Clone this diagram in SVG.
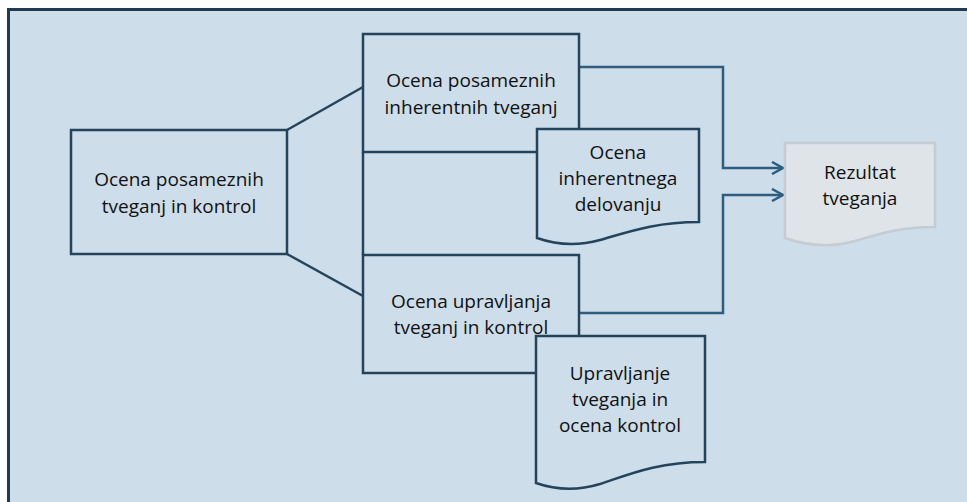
<svg xmlns="http://www.w3.org/2000/svg" width="967" height="502" viewBox="0 0 967 502">
<defs>
<style>
.box{fill:#cddde9;stroke:#24445e;stroke-width:2.5}
.doc{fill:#cddde9;stroke:#24445e;stroke-width:2.5}
.res{fill:#dfe4e8;stroke:#c4ccd2;stroke-width:2.5}
.ln{fill:none;stroke:#24445e;stroke-width:2.5}
.cn{fill:none;stroke:#2f5d80;stroke-width:2.5}
text{font-family:"Open Sans","Liberation Sans",sans-serif;font-size:19px;fill:#111;text-anchor:middle}
</style>
<marker id="arr" markerWidth="14" markerHeight="14" refX="12" refY="7" orient="auto" markerUnits="userSpaceOnUse">
<path d="M1,1 L12,7 L1,13" fill="none" stroke="#2f5d80" stroke-width="2.5"/>
</marker>
</defs>
<rect x="0" y="0" width="967" height="502" fill="#ffffff"/>
<rect id="frame" x="8.5" y="9.5" width="970" height="510" fill="#cddde9" stroke="#1f3b52" stroke-width="3"/>

<g id="connectors">
<line class="ln" x1="287" y1="130" x2="363" y2="87"/>
<line class="ln" x1="287" y1="254" x2="363" y2="296"/>
<line class="ln" x1="363" y1="152" x2="363" y2="255"/>
<polyline class="cn" points="579,67 723,67 723,168 783,168" marker-end="url(#arr)"/>
<polyline class="cn" points="579,313 723,313 723,195 783,195" marker-end="url(#arr)"/>
</g>

<g id="n1">
<rect class="box" x="71" y="130" width="216" height="124"/>
<text x="179" y="186">Ocena posameznih</text>
<text x="179" y="213">tveganj in kontrol</text>
</g>

<g id="n2">
<rect class="box" x="363" y="34" width="216" height="118"/>
<text x="471" y="87">Ocena posameznih</text>
<text x="471" y="114">inherentnih tveganj</text>
</g>

<g id="n3">
<rect class="box" x="363" y="255" width="216" height="118"/>
<text x="471" y="308">Ocena upravljanja</text>
<text x="471" y="334">tveganj in kontrol</text>
</g>

<g id="d1">
<path class="doc" d="M537,129 H699 V222 C655,222 628,232 600,240 C578,246 557,245 537,238 Z"/>
<text x="618" y="159">Ocena</text>
<text x="618" y="185">inherentnega</text>
<text x="618" y="211">delovanju</text>
</g>

<g id="d2">
<path class="doc" d="M536,336 H705 V462 C658,462 630,474 600,484 C577,491 556,490 536,483 Z"/>
<text x="620" y="380">Upravljanje</text>
<text x="620" y="406">tveganja in</text>
<text x="620" y="432">ocena kontrol</text>
</g>

<g id="d3">
<path class="res" d="M785,143 H935 V227 C900,227 878,234 855,241 C830,248 805,245 785,238 Z"/>
<text x="860" y="179">Rezultat</text>
<text x="860" y="205">tveganja</text>
</g>
</svg>
